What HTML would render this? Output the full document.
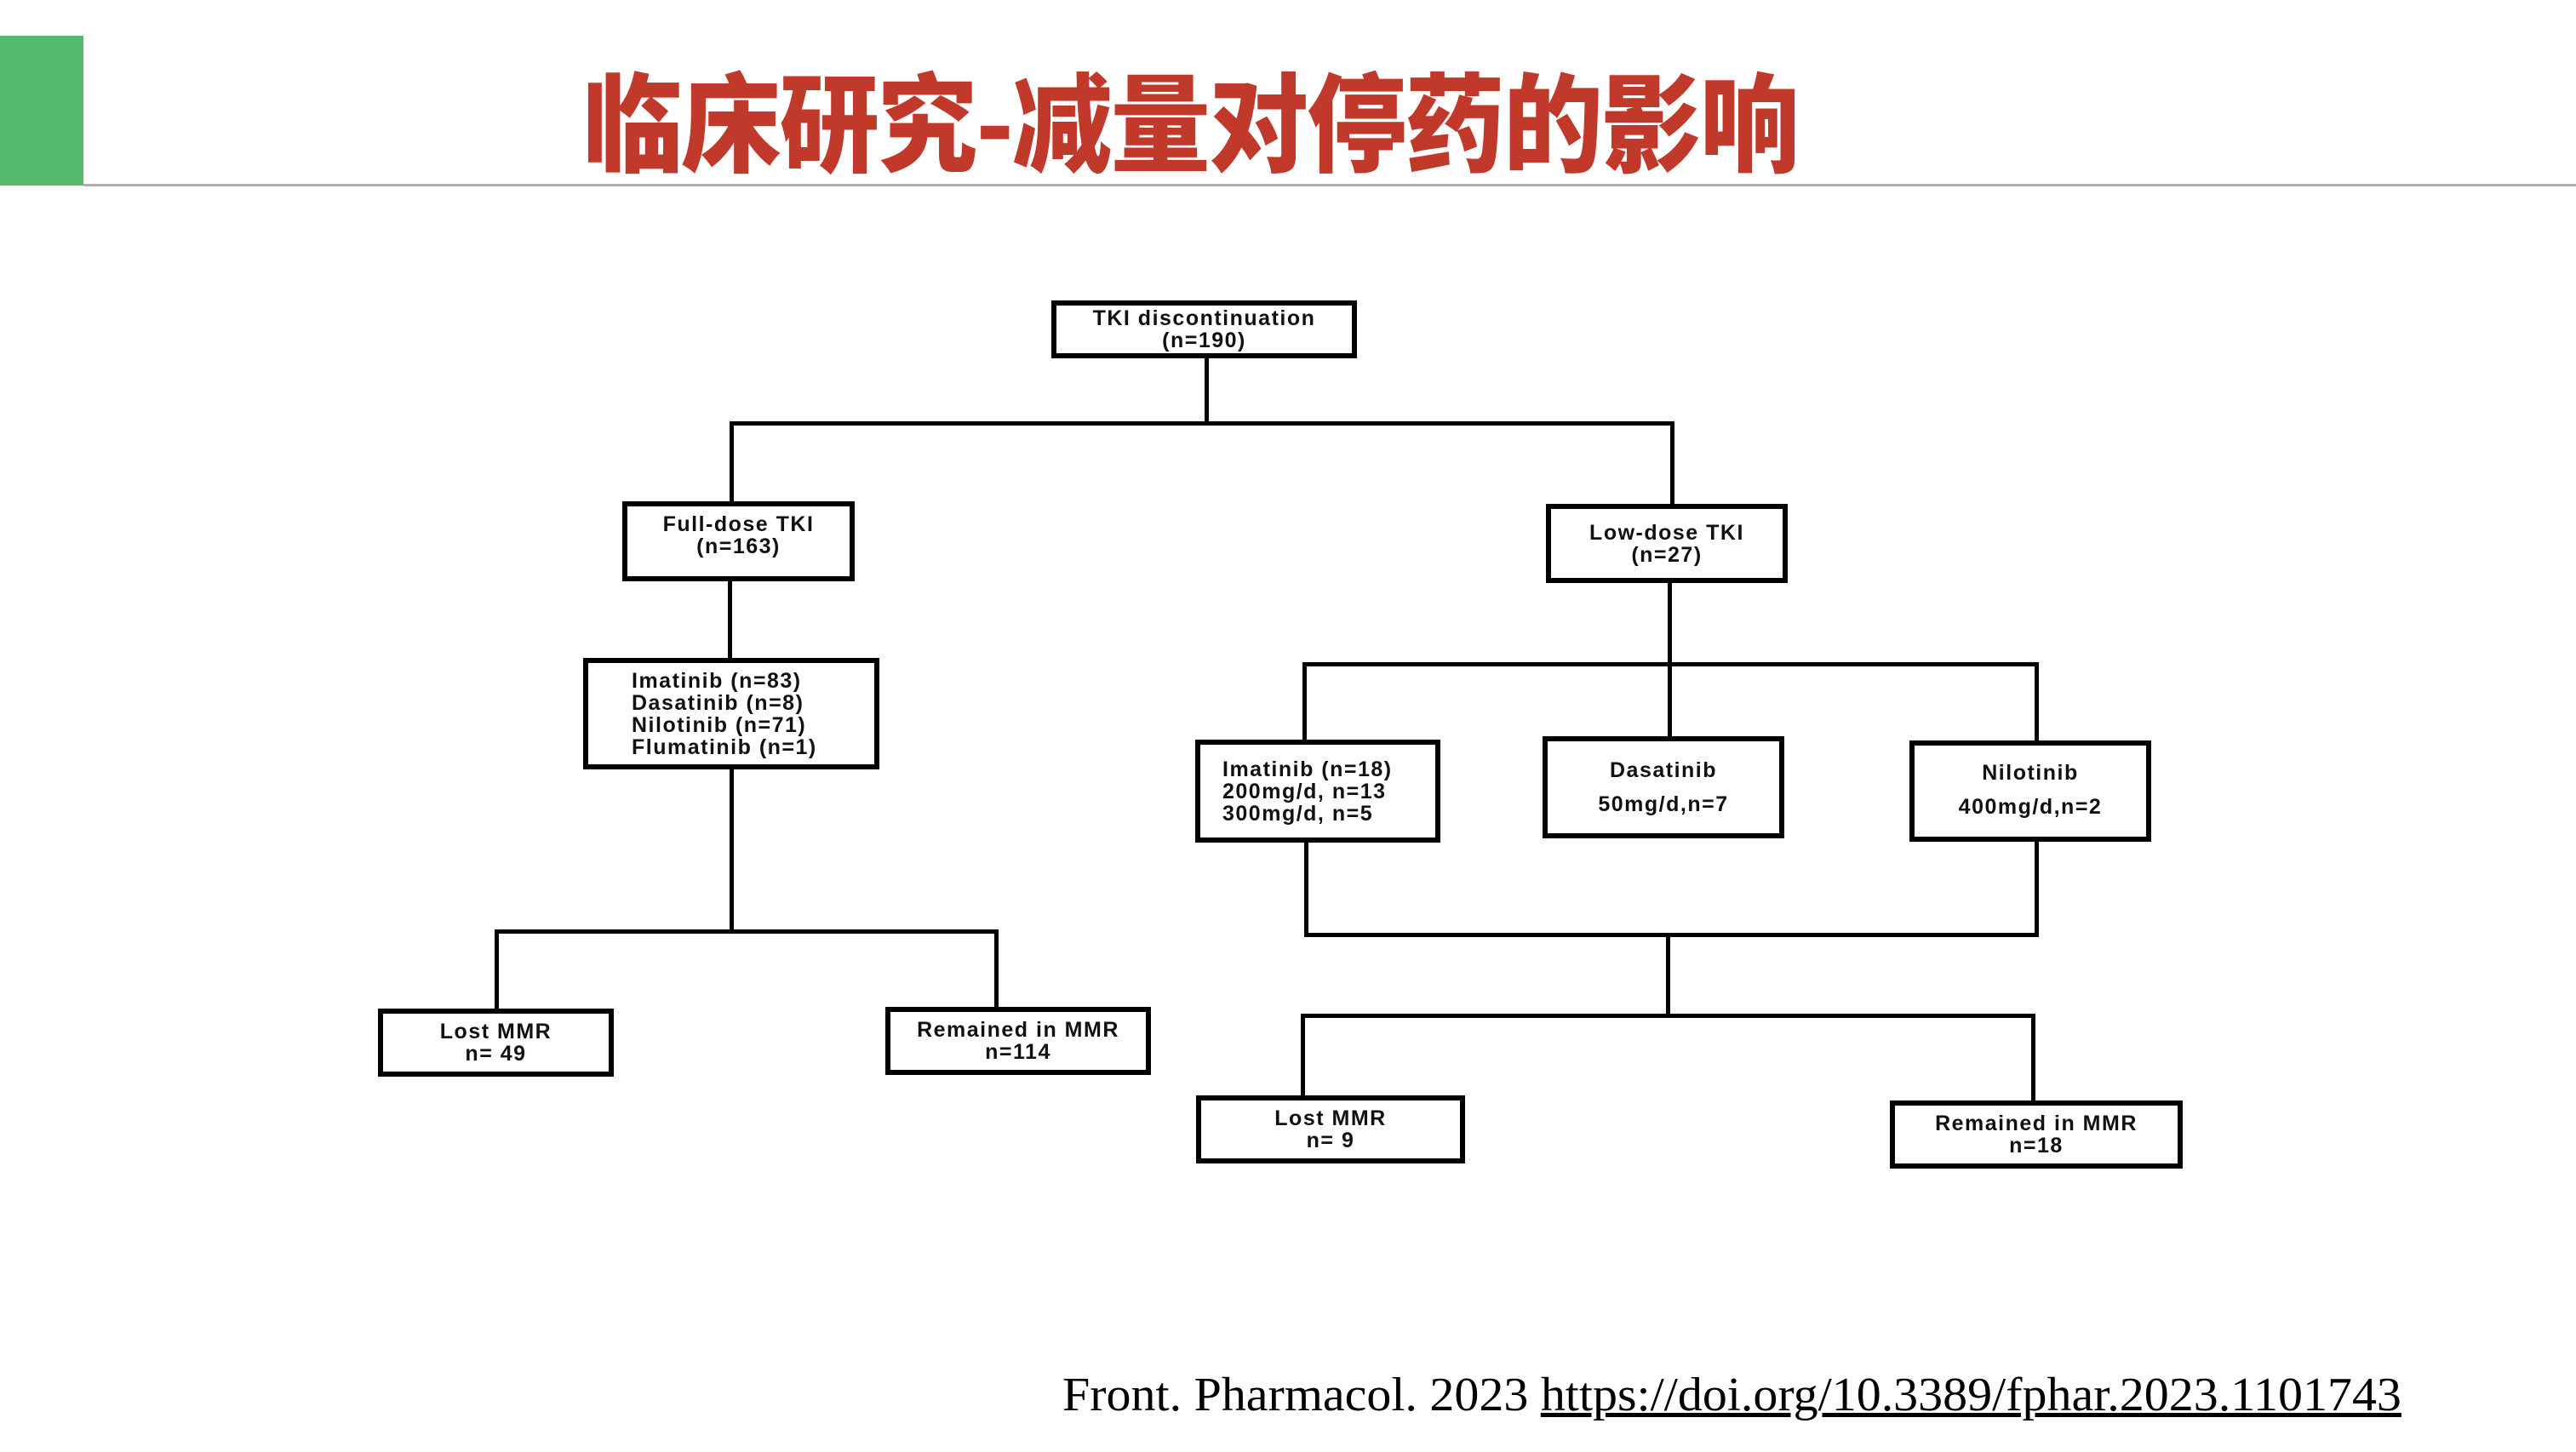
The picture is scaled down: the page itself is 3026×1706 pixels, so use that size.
<!DOCTYPE html>
<html><head><meta charset="utf-8"><style>
html,body{margin:0;padding:0;background:#fff;}
body{width:3026px;height:1706px;position:relative;overflow:hidden;font-family:"Liberation Sans",Arial,sans-serif;}
.a{position:absolute;}
.l{position:absolute;background:#000;}
.b{position:absolute;border:6px solid #000;box-sizing:border-box;background:#fff;display:flex;flex-direction:column;justify-content:center;align-items:center;font-weight:bold;font-size:25px;letter-spacing:1.5px;line-height:26px;text-align:center;color:#111;white-space:nowrap;}
.lt{align-items:flex-start;text-align:left;}
</style></head><body>
<div class="a" style="left:0;top:42px;width:98px;height:176px;background:#55b96b"></div>
<div class="a" style="left:98px;top:216px;width:2928px;height:3px;background:#b0b0b0"></div>
<div class="a" style="left:685px;top:68px;width:1425px;height:140px;color:#c0392b;font-family:'Noto Sans CJK SC','WenQuanYi Zen Hei',sans-serif;font-weight:900;font-size:126px;line-height:140px;white-space:nowrap;transform-origin:0 0;transform:scaleX(0.93);letter-spacing:-2px">临床研究-减量对停药的影响</div>

<!-- lines -->
<div class="l" style="left:1415px;top:421px;width:5px;height:78px"></div>
<div class="l" style="left:857px;top:495px;width:1110px;height:5px"></div>
<div class="l" style="left:857px;top:495px;width:5px;height:96px"></div>
<div class="l" style="left:1962px;top:495px;width:5px;height:99px"></div>
<div class="l" style="left:855px;top:683px;width:5px;height:92px"></div>
<div class="l" style="left:857px;top:903px;width:5px;height:193px"></div>
<div class="l" style="left:581px;top:1092px;width:592px;height:5px"></div>
<div class="l" style="left:581px;top:1092px;width:5px;height:95px"></div>
<div class="l" style="left:1168px;top:1092px;width:5px;height:93px"></div>

<div class="l" style="left:1959px;top:685px;width:5px;height:97px"></div>
<div class="l" style="left:1530px;top:778px;width:865px;height:5px"></div>
<div class="l" style="left:1530px;top:778px;width:5px;height:93px"></div>
<div class="l" style="left:1959px;top:778px;width:5px;height:89px"></div>
<div class="l" style="left:2390px;top:778px;width:5px;height:93px"></div>
<div class="l" style="left:1532px;top:988px;width:5px;height:112px"></div>
<div class="l" style="left:2390px;top:986px;width:5px;height:114px"></div>
<div class="l" style="left:1532px;top:1096px;width:863px;height:5px"></div>
<div class="l" style="left:1957px;top:1096px;width:5px;height:99px"></div>
<div class="l" style="left:1528px;top:1191px;width:863px;height:5px"></div>
<div class="l" style="left:1528px;top:1191px;width:5px;height:98px"></div>
<div class="l" style="left:2386px;top:1191px;width:5px;height:104px"></div>

<!-- boxes -->
<div class="b" style="left:1235px;top:353px;width:359px;height:68px">TKI discontinuation<br>(n=190)</div>
<div class="b" style="left:731px;top:589px;width:273px;height:94px;justify-content:flex-start;padding-top:8px">Full-dose TKI<br>(n=163)</div>
<div class="b" style="left:1816px;top:592px;width:284px;height:93px">Low-dose TKI<br>(n=27)</div>
<div class="b lt" style="left:685px;top:773px;width:348px;height:131px;padding-left:51px">Imatinib (n=83)<br>Dasatinib (n=8)<br>Nilotinib (n=71)<br>Flumatinib (n=1)</div>
<div class="b lt" style="left:1404px;top:869px;width:288px;height:121px;padding-left:26px">Imatinib (n=18)<br>200mg/d, n=13<br>300mg/d, n=5</div>
<div class="b" style="left:1812px;top:865px;width:284px;height:120px;line-height:40px">Dasatinib<br>50mg/d,n=7</div>
<div class="b" style="left:2243px;top:870px;width:284px;height:119px;line-height:40px;justify-content:flex-start;padding-top:12px">Nilotinib<br>400mg/d,n=2</div>
<div class="b" style="left:444px;top:1185px;width:277px;height:80px">Lost MMR<br>n= 49</div>
<div class="b" style="left:1040px;top:1183px;width:312px;height:80px">Remained in MMR<br>n=114</div>
<div class="b" style="left:1405px;top:1287px;width:316px;height:80px">Lost MMR<br>n= 9</div>
<div class="b" style="left:2220px;top:1293px;width:344px;height:80px">Remained in MMR<br>n=18</div>

<div class="a" style="left:1248px;top:1604px;font-family:'Liberation Serif','Times New Roman',serif;font-size:56px;line-height:70px;white-space:nowrap;color:#000;transform-origin:0 0;transform:scaleX(1.035)">Front. Pharmacol. 2023 <span style="text-decoration:underline">https://doi.org/10.3389/fphar.2023.1101743</span></div>
</body></html>
